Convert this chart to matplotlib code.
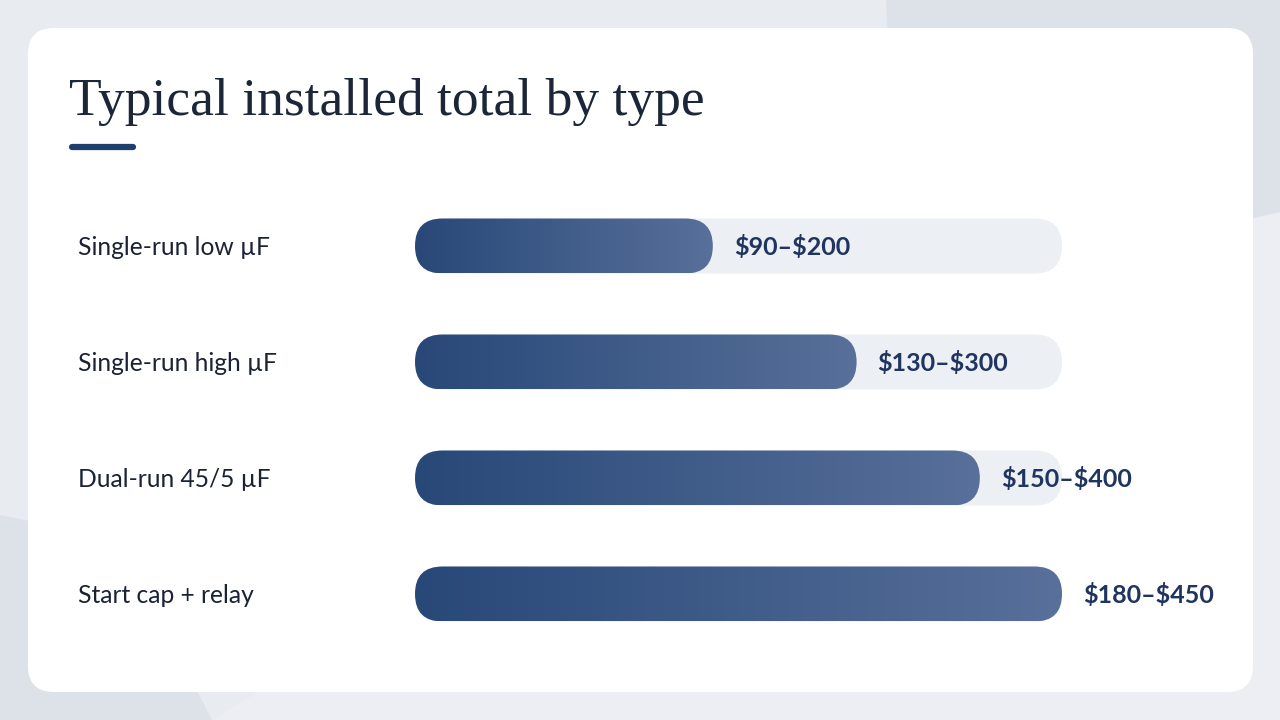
import numpy as np
import matplotlib
matplotlib.use("Agg")
import matplotlib.pyplot as plt
from matplotlib.patches import FancyBboxPatch, Polygon
from matplotlib.colors import LinearSegmentedColormap
from matplotlib.transforms import blended_transform_factory

# data
types = ["Single-run low µF", "Single-run high µF", "Dual-run 45/5 µF", "Start cap + relay"]
low = [90, 130, 150, 180]
high = [200, 300, 400, 450]
title = "Typical installed total by type"

mid = [(a + b) / 2 for a, b in zip(low, high)]
labels = [f"\\${a}–\\${b}" for a, b in zip(low, high)]

W, H = 1280, 720
fig = plt.figure(figsize=(W / 100, H / 100), dpi=100)

# background + card, in pixel coordinates
bg = fig.add_axes([0, 0, 1, 1])
bg.set_xlim(0, W)
bg.set_ylim(H, 0)
bg.axis("off")
bg.add_patch(plt.Rectangle((0, 0), W, H, color="#e8ebf0", zorder=0))
bg.add_patch(Polygon([(886, 0), (W, 0), (W, 212), (900, 300)], closed=True,
                     color="#dde1e8", zorder=0.5, lw=0))
bg.add_patch(Polygon([(0, 515), (120, 540), (212, H), (0, H)], closed=True,
                     color="#dde1e8", zorder=0.5, lw=0))
bg.add_patch(Polygon([(212, H), (W, H), (W, 212), (900, 300)], closed=True,
                     color="#eceef3", zorder=0.4, lw=0))
bg.add_patch(FancyBboxPatch((28, 28), 1225, 664, boxstyle="round,pad=0,rounding_size=26",
                            fc="white", ec="none", zorder=1))

bg.text(69, 115, title, fontsize=38.5, family="Liberation Serif", color="#1b2638",
        va="baseline", ha="left", zorder=2)
bg.plot([72, 133], [147, 147], color="#1f3f6e", lw=4.5, solid_capstyle="round", zorder=2)

# bars axes
n = len(types)
x0, x1 = 415, 1062
ytop, ybot = 188, 652
ax = fig.add_axes([x0 / W, 1 - ybot / H, (x1 - x0) / W, (ybot - ytop) / H])
ax.set_facecolor("none")
vmax = max(mid)
xppu = (x1 - x0) / vmax
yppu = (ybot - ytop) / n
h = 55 / yppu
r = (55 / 2) / xppu
asp = xppu / yppu

cmap = LinearSegmentedColormap.from_list("bar", ["#284878", "#58709a"])
grad = np.linspace(0, 1, 256).reshape(1, -1)
lab_tr = blended_transform_factory(fig.transFigure, ax.transData)

for i, (t, m, lab) in enumerate(zip(types, mid, labels)):
    y = n - 1 - i
    track = FancyBboxPatch((0, y - h / 2), vmax, h,
                           boxstyle=f"round,pad=0,rounding_size={r}",
                           mutation_aspect=asp, fc="#eceff3", ec="none", zorder=1)
    ax.add_patch(track)
    bar = FancyBboxPatch((0, y - h / 2), m, h,
                         boxstyle=f"round,pad=0,rounding_size={r}",
                         mutation_aspect=asp, fc="none", ec="none", zorder=2)
    ax.add_patch(bar)
    im = ax.imshow(grad, extent=[0, m, y - h / 2, y + h / 2], aspect="auto",
                   cmap=cmap, zorder=2, interpolation="bilinear")
    im.set_clip_path(bar)
    ax.annotate(lab, xy=(m, y - 0.01), xytext=(21, 0), textcoords="offset pixels",
                va="center", ha="left", fontsize=18, family="Lato",
                fontweight="bold", color="#1f3560", zorder=3)
    ax.text(78 / W, y - 0.01, t, transform=lab_tr, va="center", ha="left",
            fontsize=17.7, family="Lato", color="#1a2233")

ax.set_xlim(0, vmax)
ax.set_ylim(-0.5, n - 0.5)
ax.axis("off")

fig.savefig("out.png", dpi=100)
